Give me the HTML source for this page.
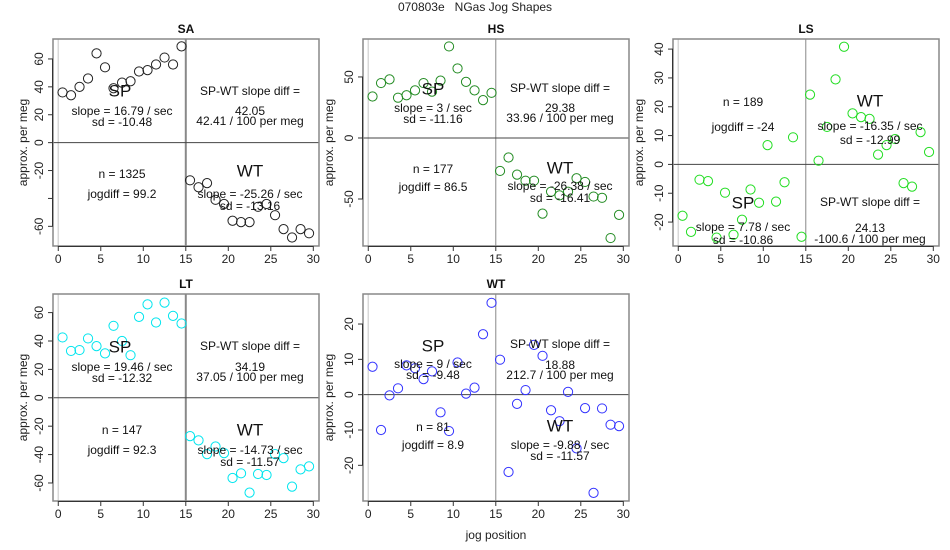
<!DOCTYPE html>
<html><head><meta charset="utf-8"><style>
body{margin:0;background:#fff}
svg{display:block;font-family:"Liberation Sans",sans-serif}
</style></head><body>
<svg id="c" width="950" height="550" viewBox="0 0 950 550">
<text x="475" y="11" text-anchor="middle" font-size="12" fill="#222" style="white-space:pre">070803e   NGas Jog Shapes</text>
<text x="496" y="539" text-anchor="middle" font-size="12" fill="#222">jog position</text>
</svg>
<script>
const xs = [0.5,1.5,2.5,3.5,4.5,5.5,6.5,7.5,8.5,9.5,10.5,11.5,12.5,13.5,14.5,15.5,16.5,17.5,18.5,19.5,20.5,21.5,22.5,23.5,24.5,25.5,26.5,27.5,28.5,29.5];
const saVals = [36,34,40,46,64,54,39,43,44,51,52,56,61,56,69,-27,-32,-29,-41,-44,-56,-57,-57,-46,-44,-52,-62,-68,-62,-65];
const hsVals = [34,45,48,33,35,39,45,38,47,75,57,46,39,31,37,-27,-16,-30,-35,-35,-62,-44,-47,-44,-33,-36,-48,-49,-82,-63];
const lsVals = [-17.8,-23.4,-5.3,-5.8,-25.4,-9.8,-24.4,-19.2,-8.7,-13.3,6.7,-12.9,-6.2,9.4,-25.1,24.2,1.3,13,29.5,40.8,17.7,16.4,15.8,3.4,6.7,8.8,-6.5,-7.7,11.2,4.3];
const ltVals = [42.5,33,33.6,41.8,36.4,31.3,50.7,40,30,57,65.8,53,67,57.7,52.3,-27,-30,-39.7,-34.3,-39,-56.5,-53.2,-66.8,-53.7,-54.4,-39.7,-42.5,-62.6,-50.4,-48.3];
const wtVals = [7.9,-10,-0.2,1.8,8.3,7.5,4.4,6.6,-5,-10.3,9.1,0.3,2,17.1,26,9.9,-21.9,-2.6,1.3,14.1,11,-4.4,-7.5,0.8,-15.2,-3.8,-27.8,-3.9,-8.5,-8.9];
const xTicks = [0,5,10,15,20,25,30];
const saTicks = [-60,-40,-20,0,20,40,60];
const saLabels = ["-60","","-20","0","20","40","60"];
const hsTicks = [-50,0,50];
const lsTicks = [-20,-10,0,10,20,30,40];
const ltTicks = [-60,-40,-20,0,20,40,60];
const wtTicks = [-20,-10,0,10,20];

const NS="http://www.w3.org/2000/svg";
const svg=document.getElementById('c');
function mk(tag,attrs,parent){const e=document.createElementNS(NS,tag);for(const k in attrs)e.setAttribute(k,attrs[k]);(parent||svg).appendChild(e);return e;}

const panels=[
 {name:'SA',L:53,T:39,ymin:-74.1,ymax:74.3,vals:saVals,ticks:saTicks,labels:saLabels,col:'#222',v15w:2,ytl:27,
  txt:[['SP',67,52,17],['slope = 16.79 / sec',69,72,12],['sd = -10.48',69,83,12],['SP-WT slope diff =',197,52,12],['42.05',197,72,12],['42.41 / 100 per meg',197,82,12],['n = 1325',69,135,12],['jogdiff = 99.2',69,155,12],['WT',197,132,17],['slope = -25.26 / sec',197,155,12],['sd = -13.16',197,167,12]]},
 {name:'HS',L:363,T:39,ymin:-88.5,ymax:81.1,vals:hsVals,ticks:hsTicks,labels:null,col:'#228b22',v15w:1,ytl:333,
  txt:[['SP',70,50,17],['slope = 3 / sec',70,69,12],['sd = -11.16',70,80,12],['SP-WT slope diff =',197,49,12],['29.38',197,69,12],['33.96 / 100 per meg',197,79,12],['n = 177',70,130,12],['jogdiff = 86.5',70,148,12],['WT',197,129,17],['slope = -26.38 / sec',197,147,12],['sd = -16.41',197,159,12]]},
 {name:'LS',L:673,T:39,ymin:-28.3,ymax:43.5,vals:lsVals,ticks:lsTicks,labels:null,col:'#22dd22',v15w:1,ytl:643,
  txt:[['n = 189',70,63,12],['jogdiff = -24',70,88,12],['WT',197,62,17],['slope = -16.35 / sec',197,87,12],['sd = -12.99',197,101,12],['SP',70,164,17],['slope = 7.78 / sec',70,188,12],['sd = -10.86',70,201,12],['SP-WT slope diff =',197,163,12],['24.13',197,189,12],['-100.6 / 100 per meg',197,200,12]]},
 {name:'LT',L:53,T:294,ymin:-72.7,ymax:73.1,vals:ltVals,ticks:ltTicks,labels:null,col:'#00e5ee',v15w:2,ytl:27,
  txt:[['SP',67,53,17],['slope = 19.46 / sec',69,73,12],['sd = -12.32',69,84,12],['SP-WT slope diff =',197,52,12],['34.19',197,73,12],['37.05 / 100 per meg',197,83,12],['n = 147',69,136,12],['jogdiff = 92.3',69,156,12],['WT',197,136,17],['slope = -14.73 / sec',197,156,12],['sd = -11.57',197,168,12]]},
 {name:'WT',L:363,T:294,ymin:-30.1,ymax:28.5,vals:wtVals,ticks:wtTicks,labels:null,col:'#3333ff',v15w:1,ytl:333,
  txt:[['SP',70,52,17],['slope = 9 / sec',70,70,12],['sd = -9.48',70,81,12],['SP-WT slope diff =',197,50,12],['18.88',197,71,12],['212.7 / 100 per meg',197,81,12],['n = 81',70,133,12],['jogdiff = 8.9',70,151,12],['WT',197,132,17],['slope = -9.88 / sec',197,151,12],['sd = -11.57',197,162,12]]}
];
const W=266,H=207,XMIN=-0.62,XMAX=30.67;
panels.forEach(p=>{
  const g=mk('g',{});
  
  
  const sx=v=>p.L+(v-XMIN)/(XMAX-XMIN)*W;
  const sy=v=>p.T+(p.ymax-v)/(p.ymax-p.ymin)*H;
  const t=mk('text',{x:p.L+W/2,y:p.T-6,'text-anchor':'middle','font-size':12,'font-weight':'bold',fill:'#111'},g);
  t.textContent=p.name;
  
  
  mk('line',{x1:sx(0),x2:sx(0),y1:p.T,y2:p.T+H,stroke:'#d8d8d8','stroke-width':1.5},g);
  mk('line',{x1:sx(15),x2:sx(15),y1:p.T,y2:p.T+H,stroke:'#888','stroke-width':p.v15w},g);
  mk('line',{x1:p.L,x2:p.L+W,y1:sy(0),y2:sy(0),stroke:'#444','stroke-width':1},g);
  const box=mk('rect',{x:p.L,y:p.T,width:W,height:H,fill:'none',stroke:'#888','stroke-width':1.5},g);
  
  
  xTicks.forEach(v=>{
    mk('line',{x1:sx(v),x2:sx(v),y1:p.T+H,y2:p.T+H+5,stroke:'#333'},g);
    const l=mk('text',{x:sx(v),y:p.T+H+17,'text-anchor':'middle','font-size':12,fill:'#222'},g);
    l.textContent=v;
    
    
  });
  mk('line',{x1:sx(0),x2:sx(30),y1:p.T+H+0.5,y2:p.T+H+0.5,stroke:'#333'},g);
  p.ticks.forEach((v,i)=>{
    mk('line',{x1:p.L-5,x2:p.L,y1:sy(v),y2:sy(v),stroke:'#333'},g);
    const lab=p.labels?p.labels[i]:String(v);
    if(!lab)return;
    const l=mk('text',{x:p.L-10,y:sy(v),'text-anchor':'middle','font-size':12,fill:'#222',transform:`rotate(-90 ${p.L-10} ${sy(v)})`},g);
    l.textContent=lab;
    
    
  });
  mk('line',{x1:p.L-0.5,x2:p.L-0.5,y1:sy(p.ticks[0]),y2:sy(p.ticks[p.ticks.length-1]),stroke:'#333'},g);
  const yt=mk('text',{x:p.ytl,y:p.T+H/2,'text-anchor':'middle','font-size':12,fill:'#222',transform:`rotate(-90 ${p.ytl} ${p.T+H/2})`},g);
  yt.textContent='approx. per meg';
  
  
  xs.forEach((x,i)=>{
    const c=mk('circle',{cx:sx(x),cy:sy(p.vals[i]),r:4.6,fill:'none',stroke:p.col,'stroke-width':1},g);
    
    
  });
  p.txt.forEach(a=>{
    const e=mk('text',{x:p.L+a[1],y:p.T+a[2],'text-anchor':'middle','dominant-baseline':'central','font-size':a[3],fill:'#111'},g);
    e.textContent=a[0];
    
    
  });
});
</script>
</body></html>
